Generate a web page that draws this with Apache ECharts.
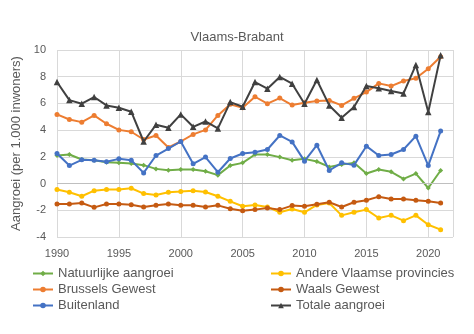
<!DOCTYPE html>
<html>
<head>
<meta charset="utf-8">
<script src="https://cdn.jsdelivr.net/npm/echarts@6/dist/echarts.min.js"></script>
<style>
html,body{margin:0;padding:0;background:#fff;}
#c{width:474px;height:334px;}
</style>
</head>
<body>
<div id="c"></div>
<script>
var years = [1990,1991,1992,1993,1994,1995,1996,1997,1998,1999,2000,2001,2002,2003,2004,2005,2006,2007,2008,2009,2010,2011,2012,2013,2014,2015,2016,2017,2018,2019,2020,2021];
var natuurlijke = [2.1,2.18,1.8,1.75,1.6,1.55,1.5,1.38,1.1,1.0,1.05,1.05,0.92,0.63,1.35,1.55,2.18,2.18,1.98,1.75,1.85,1.65,1.25,1.43,1.55,0.75,1.05,0.88,0.35,0.75,-0.33,0.98];
var andere = [-0.45,-0.65,-0.95,-0.53,-0.45,-0.45,-0.35,-0.75,-0.85,-0.65,-0.6,-0.53,-0.63,-0.95,-1.33,-1.7,-1.6,-1.75,-2.15,-1.9,-2.15,-1.6,-1.45,-2.38,-2.15,-1.95,-2.58,-2.38,-2.78,-2.38,-3.08,-3.45];
var brussels = [5.18,4.8,4.6,5.1,4.48,4.02,3.88,3.3,3.6,2.7,3.15,3.68,4.02,5.1,5.93,5.68,6.5,5.98,6.4,5.88,6.05,6.18,6.22,5.85,6.38,6.85,7.5,7.3,7.68,7.88,8.6,9.5];
var waals = [-1.53,-1.53,-1.45,-1.78,-1.53,-1.53,-1.58,-1.75,-1.63,-1.53,-1.63,-1.63,-1.75,-1.63,-1.88,-2.03,-1.95,-1.83,-1.95,-1.65,-1.7,-1.55,-1.4,-1.75,-1.4,-1.25,-0.98,-1.15,-1.15,-1.25,-1.33,-1.45];
var buitenland = [2.25,1.35,1.78,1.75,1.63,1.85,1.75,0.8,2.1,2.62,3.15,1.48,1.98,0.85,1.88,2.25,2.35,2.55,3.6,3.12,1.68,2.87,0.98,1.55,1.38,2.8,2.1,2.18,2.55,3.55,1.35,3.93];
var totale = [7.6,6.25,5.98,6.48,5.85,5.68,5.38,3.15,4.4,4.18,5.18,4.25,4.65,4.13,6.1,5.75,7.6,7.1,7.98,7.48,5.98,7.75,5.85,4.93,5.73,7.3,7.13,6.93,6.75,8.88,5.35,9.6];

var names = ['Natuurlijke aangroei','Andere Vlaamse provincies','Brussels Gewest','Waals Gewest','Buitenland','Totale aangroei'];
var colors = ['#70ad47','#ffc000','#ed7d31','#c55a11','#4472c4','#404040'];
var values = [natuurlijke, andere, brussels, waals, buitenland, totale];
var symbols = ['diamond','circle','circle','circle','circle','triangle'];
var sizes = [5,5,5,5,5,6.5];

function pairs(arr){ return years.map(function(y,i){ return [y, arr[i]]; }); }

var series = names.map(function(n,i){
  return {
    name: n, type: 'line', data: pairs(values[i]),
    symbol: symbols[i], symbolSize: sizes[i],
    lineStyle: {color: colors[i], width: 2},
    itemStyle: {color: colors[i]},
    animation: false, z: 2 + i
  };
});
series[0].markLine = {
  silent: true, symbol: 'none', label: {show: false}, animation: false,
  lineStyle: {color: '#bfbfbf', type: 'solid', width: 1},
  data: [{yAxis: 0}]
};

var ff = 'Liberation Sans, Arial, sans-serif';
var legendCommon = {
  orient: 'vertical', top: 261, itemWidth: 20, itemHeight: 7, itemGap: 1,
  textStyle: {fontFamily: ff, color: '#595959', fontSize: 13, lineHeight: 15}
};
var chart = echarts.init(document.getElementById('c'), null, {renderer: 'canvas'});
chart.setOption({
  backgroundColor: '#fff',
  animation: false,
  title: {
    text: 'Vlaams-Brabant', left: 'center', top: 26,
    textStyle: {fontFamily: ff, color: '#595959', fontSize: 13, fontWeight: 'normal'}
  },
  grid: {left: 57, right: 21, top: 50, bottom: 97},
  xAxis: {
    type: 'value', min: 1990, max: 2022, interval: 5,
    axisLine: {show: false}, axisTick: {show: false},
    axisLabel: {fontFamily: ff, color: '#595959', fontSize: 11, margin: 11, showMaxLabel: false,
      formatter: function(v){ return String(v); }},
    splitLine: {show: true, lineStyle: {color: '#d9d9d9', width: 1}}
  },
  yAxis: {
    type: 'value', min: -4, max: 10, interval: 2,
    name: 'Aangroei (per 1.000 inwoners)', nameLocation: 'middle', nameGap: 29, nameRotate: 90,
    nameTextStyle: {fontFamily: ff, color: '#595959', fontSize: 13},
    axisLine: {show: false}, axisTick: {show: false},
    axisLabel: {fontFamily: ff, color: '#595959', fontSize: 11, margin: 11},
    splitLine: {show: true, lineStyle: {color: '#d9d9d9', width: 1}}
  },
  legend: [
    Object.assign({data: [names[0], names[2], names[4]], left: 27}, legendCommon),
    Object.assign({data: [names[1], names[3], names[5]], left: 265}, legendCommon)
  ],
  series: series
});
</script>
</body>
</html>
